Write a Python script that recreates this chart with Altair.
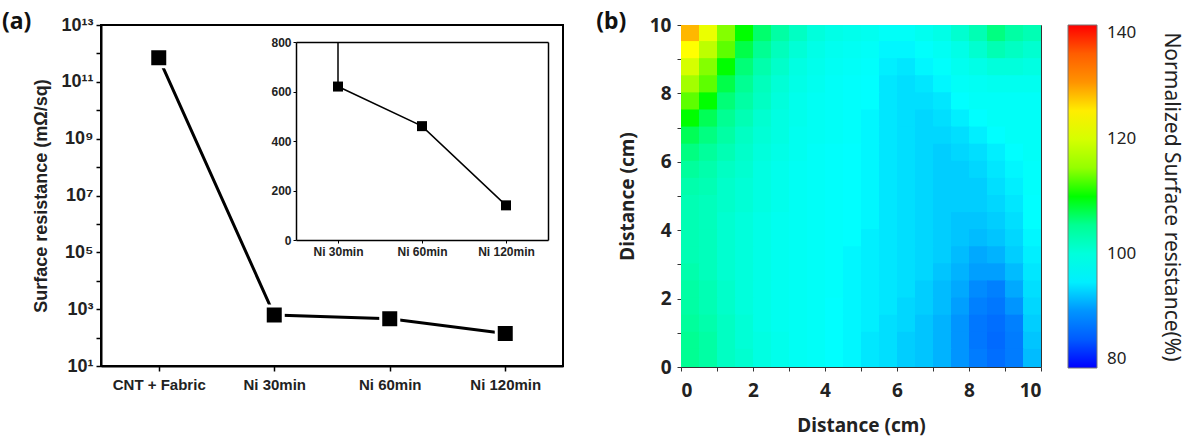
import altair as alt
import pandas as pd

# ---------------- data: panel (a) ----------------
samples = ["CNT + Fabric", "Ni 30min", "Ni 60min", "Ni 120min"]
resistance = [7.0e11, 620, 460, 140]            # mOhm/sq
inset_samples = ["Ni 30min", "Ni 60min", "Ni 120min"]
inset_resistance = [620, 460, 140]
inset_axis_top = 800                             # inset y-axis maximum
log_ticks = [1e1, 1e2, 1e3, 1e4, 1e5, 1e6, 1e7, 1e8, 1e9, 1e10, 1e11, 1e12, 1e13]
inset_ticks = [0, 200, 400, 600, 800]

# ---------------- data: panel (b) ----------------
grid_x = [0.25, 0.75, 1.25, 1.75, 2.25, 2.75, 3.25, 3.75, 4.25, 4.75,
          5.25, 5.75, 6.25, 6.75, 7.25, 7.75, 8.25, 8.75, 9.25, 9.75]
grid_y = [9.75, 9.25, 8.75, 8.25, 7.75, 7.25, 6.75, 6.25, 5.75, 5.25,
          4.75, 4.25, 3.75, 3.25, 2.75, 2.25, 1.75, 1.25, 0.75, 0.25]
heat_rows = [
    [128, 122, 114, 110, 107, 104, 102, 100, 99, 98.5, 98, 97, 97, 98, 99, 101, 103, 106, 104, 103],
    [124, 118, 112, 108.5, 105, 102.5, 100.5, 99, 98, 97.5, 97, 95.5, 95.5, 96.5, 97.5, 99, 101, 103, 102, 101],
    [120, 114, 110, 106.5, 103.5, 101.5, 99.5, 98.5, 97.5, 97, 96.5, 95, 94.5, 95.5, 96.5, 98, 99, 100, 100, 99.5],
    [116, 112, 108.5, 105, 102.5, 100.5, 99, 98, 97, 96.5, 96, 94.5, 94, 94.5, 95.5, 97, 97.5, 98, 98, 98],
    [112, 110, 106.5, 104, 102, 100, 98.5, 97.5, 97, 96.5, 96, 94.5, 94, 94, 94.5, 96, 97, 97, 97, 97],
    [110, 108, 105, 103, 101, 99.5, 98.5, 97.5, 97, 96.5, 95.5, 94.5, 94, 93.5, 94, 95, 96, 97, 97, 97],
    [108, 106, 104, 102, 100.5, 99.5, 98, 97.5, 97, 96.5, 95.5, 94.5, 94, 93.5, 93.5, 94, 95, 96, 97, 97],
    [106, 104.5, 103, 101.5, 100, 99, 98, 97, 96.5, 96, 95.5, 94.5, 94, 93.5, 93, 93.5, 94, 95, 96, 97],
    [104.5, 103.5, 102, 101, 99.5, 98.5, 97.5, 97, 96.5, 96, 95.5, 94.5, 94, 93.5, 93, 93, 93.5, 94.5, 95.5, 96.5],
    [103.5, 103, 101.5, 100.5, 99.5, 98.5, 97.5, 97, 96.5, 96, 95.5, 94.5, 94, 93.5, 93, 93, 93, 94, 95, 96.5],
    [103, 102.5, 101.5, 100.5, 99.5, 98.5, 97.5, 97, 96.5, 96, 95.5, 94.5, 94, 93.5, 93, 93, 93, 93.5, 94.5, 96],
    [103, 102.5, 101, 100, 99, 98, 97.5, 97, 96.5, 96, 95.5, 94.5, 94, 93.5, 93, 92.5, 92.5, 93, 94, 96],
    [103, 102.5, 101, 100, 99, 98, 97.5, 97, 96.5, 96, 95, 94.5, 94, 93.5, 93, 92.5, 92, 92.5, 93.5, 95.5],
    [103, 102.5, 101, 100, 99, 98, 97.5, 97, 96.5, 95.5, 95, 94.5, 94, 93.5, 93, 92, 91, 91.5, 93, 95],
    [103.5, 102.5, 101, 100, 99, 98, 97.5, 97, 96.5, 95.5, 95, 94.5, 94, 93.5, 92.5, 91.5, 90.5, 90.5, 92, 94.5],
    [104, 103, 101.5, 100, 99, 98, 97.5, 97, 96.5, 95.5, 95, 94.5, 94, 93, 92, 91, 89.5, 89, 91, 94],
    [104, 103, 101.5, 100, 99, 98, 97.5, 97, 96, 95.5, 95, 94.5, 93.5, 93, 92, 90.5, 89, 88, 90, 93.5],
    [104.5, 103.5, 102, 100.5, 99, 98, 97.5, 97, 96, 95.5, 95, 94, 93.5, 92.5, 91.5, 90, 88, 87, 89, 93],
    [105, 104, 102, 100.5, 99.5, 98.5, 97.5, 97, 96, 95.5, 94.5, 94, 93, 92.5, 91.5, 90, 88, 86.5, 88.5, 92.5],
    [105, 104, 102, 101, 99.5, 98.5, 97.5, 97, 96, 95.5, 94.5, 94, 93, 92.5, 91.5, 90, 88.5, 87, 88.5, 92],
]
assert len(heat_rows) == len(grid_y) and all(len(r) == len(grid_x) for r in heat_rows)
cell_half = 0.25
cell_overlap = 0.03
dist_ticks = [0, 1, 2, 3, 4, 5, 6, 7, 8, 9, 10]
cbar_domain = [80, 89, 96, 110, 124, 131, 140]
cbar_colors = ["#0000ff", "#0080ff", "#00ffff", "#00ff00", "#ffff00", "#ff8000", "#ff0000"]
cbar_ticks = [80, 100, 120, 140]

# ---------------- tables ----------------
df_main = pd.DataFrame({"sample": samples, "resistance": resistance})
df_inset = pd.DataFrame({"sample": inset_samples, "resistance": inset_resistance})
df_link = pd.DataFrame({"sample": [inset_samples[0]], "resistance": [inset_resistance[0]],
                        "top": [inset_axis_top]})
df_heat = pd.DataFrame([{"x": gx, "y": gy, "v": heat_rows[j][i]}
                        for j, gy in enumerate(grid_y) for i, gx in enumerate(grid_x)])

FA = "Liberation Sans"
FB = "Noto Sans"

sup = {1: "¹", 3: "³", 5: "⁵", 7: "⁷", 9: "⁹", 11: "¹¹", 13: "¹³"}
expr = ""
for k, s in sup.items():
    expr += f"round(log(datum.value)/LN10) == {k} ? '10{s}' : "
expr += "''"

# ---------------- panel (a) ----------------
W_A, H_A = 462, 341
x_main = alt.X("sample:N", sort=samples, scale=alt.Scale(type="point", padding=0.5),
               axis=alt.Axis(title=None, orient="bottom", labelFont=FA, labelFontWeight="bold",
                             labelFontSize=15, labelColor="#222", labelAngle=0, labelPadding=6,
                             tickColor="black", tickWidth=1.5, tickSize=5,
                             domainColor="black", domainWidth=2, grid=False))
y_main = alt.Y("resistance:Q", scale=alt.Scale(type="log", domain=[10, 1e13], nice=False),
               axis=alt.Axis(title="Surface resistance (mΩ/sq)", orient="left", values=log_ticks,
                             labelExpr=expr, labelFont=FA, labelFontWeight="bold", labelFontSize=18,
                             labelColor="#222", labelPadding=3, tickColor="black", tickWidth=1.5,
                             tickSize=5, domainColor="black", domainWidth=2, grid=False,
                             titleFont=FA, titleFontWeight="bold", titleFontSize=18,
                             titleColor="#222", titlePadding=10))

main_line = alt.Chart(df_main).mark_line(color="black", strokeWidth=3).encode(x=x_main, y=y_main)
main_pts = alt.Chart(df_main).mark_square(size=324, filled=True, fill="black", stroke="white",
                                          strokeWidth=3, opacity=1).encode(x=x_main, y=y_main)
main = alt.layer(main_line, main_pts)

x_in_range = [195, 447]
y_in_range = [215, 17]
inset_axis_common = dict(labelFont=FA, labelFontWeight="bold", labelFontSize=12, labelColor="#222",
                         tickColor="black", tickWidth=1, tickSize=3, domainColor="black",
                         domainWidth=1.5, grid=False, title=None)
x_in = alt.X("sample:N", sort=inset_samples,
             scale=alt.Scale(type="point", padding=0.5, range=x_in_range),
             axis=alt.Axis(orient="bottom", offset=-(H_A - y_in_range[0]), labelAngle=0,
                           labelPadding=3, **inset_axis_common))
y_in = alt.Y("resistance:Q", scale=alt.Scale(domain=[0, 800], nice=False, range=y_in_range),
             axis=alt.Axis(orient="left", offset=-x_in_range[0], values=inset_ticks,
                           labelPadding=2, **inset_axis_common))
inset_link = alt.Chart(df_link).mark_rule(color="black", strokeWidth=1.5).encode(
    x=x_in, y=y_in, y2="top:Q")
inset_line = alt.Chart(df_inset).mark_line(color="black", strokeWidth=1.5).encode(x=x_in, y=y_in)
inset_pts = alt.Chart(df_inset).mark_square(size=100, filled=True, color="black",
                                            opacity=1).encode(x=x_in, y=y_in)
inset = alt.layer(inset_link, inset_line, inset_pts)

frame_axis = dict(labels=False, ticks=False, domainColor="black", domainWidth=1.5,
                  grid=False, title=None)
inset_frame = alt.Chart(df_inset).mark_point(opacity=0).encode(
    x=alt.X("sample:N", sort=inset_samples,
            scale=alt.Scale(type="point", padding=0.5, range=x_in_range),
            axis=alt.Axis(orient="top", offset=-y_in_range[1], **frame_axis)),
    y=alt.Y("resistance:Q", scale=alt.Scale(domain=[0, 800], nice=False, range=y_in_range),
            axis=alt.Axis(orient="right", offset=-(W_A - x_in_range[1]), **frame_axis)))

panel_a = alt.layer(main, inset, inset_frame).resolve_scale(
    x="independent", y="independent").properties(
    width=W_A, height=H_A,
    view=alt.ViewBackground(stroke="black", strokeWidth=2),
    title=alt.Title("(a)", anchor="start", dx=-31, font=FB, fontSize=23, fontWeight="bold",
                    color="#111", offset=-18))

# ---------------- panel (b) ----------------
cscale = alt.Scale(domain=cbar_domain, range=cbar_colors, clamp=True)
axis_b = dict(values=dist_ticks, labelExpr="datum.value % 2 == 0 ? datum.value : ''",
              labelFont=FB, labelFontWeight="bold", labelFontSize=19, labelColor="#222",
              tickColor="#333", tickSize=4, tickWidth=1, domain=False, grid=False,
              titleFont=FB, titleFontWeight="bold", titleFontSize=19, titleColor="#222")
panel_b = alt.Chart(df_heat).transform_calculate(
    x0=f"datum.x - {cell_half}", x1=f"datum.x + {cell_half} + {cell_overlap}",
    y0=f"datum.y - {cell_half}", y1=f"datum.y + {cell_half} + {cell_overlap}"
).mark_rect(clip=True).encode(
    x=alt.X("x0:Q", scale=alt.Scale(domain=[0, 10], nice=False),
            axis=alt.Axis(title="Distance (cm)", orient="bottom", labelPadding=10,
                          titlePadding=16, **axis_b)),
    x2="x1:Q",
    y=alt.Y("y0:Q", scale=alt.Scale(domain=[0, 10], nice=False),
            axis=alt.Axis(title="Distance (cm)", orient="left", labelPadding=6,
                          titlePadding=12, **axis_b)),
    y2="y1:Q",
    color=alt.Color("v:Q", scale=cscale,
                    legend=alt.Legend(orient="none", legendX=387, legendY=0, direction="vertical",
                                      type="gradient",
                                      gradientLength=343, gradientThickness=29,
                                      values=cbar_ticks, labelFont=FB, labelFontSize=17,
                                      labelColor="#222", labelOffset=10,
                                      gradientStrokeColor="#777", gradientStrokeWidth=1,
                                      title="Normalized Surface resistance(%)",
                                      titleOrient="right", titleFont=FB, titleFontSize=21,
                                      titleFontWeight="normal", titleColor="#222",
                                      titleAnchor="middle", titlePadding=25, titleLimit=420)),
).properties(
    width=360, height=342,
    view=alt.ViewBackground(stroke="#333", strokeWidth=1),
    title=alt.Title("(b)", anchor="start", dx=-22, font=FB, fontSize=23, fontWeight="bold",
                    color="#111", offset=-18))

chart = alt.hconcat(panel_a, panel_b, spacing=31).resolve_scale(color="independent").properties(
    padding={"left": 0, "top": 10, "right": 8, "bottom": 0}
).configure(background="white")

chart.save("out.html", embed_options={"renderer": "svg", "actions": False})
